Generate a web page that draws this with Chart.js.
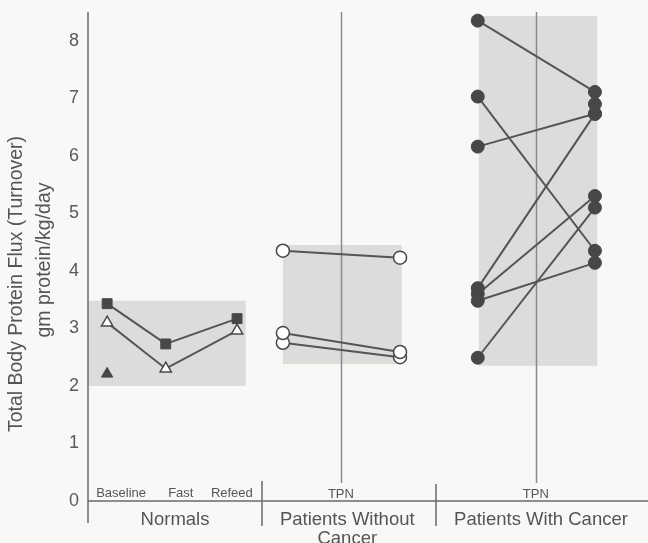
<!DOCTYPE html>
<html>
<head>
<meta charset="utf-8">
<script src="https://cdn.jsdelivr.net/npm/chart.js@4/dist/chart.umd.min.js"></script>
<style>
  html, body { margin: 0; padding: 0; background: #f8f8f6; }
  #wrap { width: 648px; height: 543px; position: relative; }
</style>
</head>
<body>
<div id="wrap"><canvas id="fluxChart"></canvas></div>
<script>
// normals: baseline / fast / refeed
const normalStages = ['Baseline', 'Fast', 'Refeed'];
const normalX = [0.33, 1.34, 2.57];
const normalStageLabelX = [0.57, 1.60, 2.48];
const normalSquares = [3.43, 2.73, 3.17];
const normalOpenTriangles = [3.10, 2.30, 2.96];
const normalFilledTriangle = [2.21];

// patients without cancer, before / after TPN
const withoutX = [3.36, 5.38];
const withoutBefore = [4.35, 2.92, 2.75];
const withoutAfter = [4.23, 2.59, 2.50];

// patients with cancer, before / after TPN
const cancerX = [6.72, 8.74];
const cancerBefore = [8.35, 7.03, 6.16, 3.70, 3.60, 3.48, 2.49];
const cancerAfter = [7.11, 4.35, 6.73, 6.73, 5.30, 4.14, 5.10];
const cancerAfterExtra = [6.90];

// shaded ranges per group
const shadeLeft = [0, 3.36, 6.74];
const shadeRight = [2.72, 5.41, 8.78];
const shadeLow = [2.0, 2.38, 2.35];
const shadeHigh = [3.48, 4.45, 8.43];

// group labels and dividers
const groupLabels = [['Normals'], ['Patients Without', 'Cancer'], ['Patients With Cancer']];
const groupCenters = [1.50, 4.47, 7.81];
const groupDividers = [3, 6];
const tpnX = [4.36, 7.72];
const yTicks = [0, 1, 2, 3, 4, 5, 6, 7, 8];

const ink = '#555555';
const markInk = '#474747';
const font = '"Liberation Sans", Arial, sans-serif';

const datasets = [];
datasets.push({
    label: 'Normals square',
    data: normalX.map((x, i) => ({ x: x, y: normalSquares[i] })),
    showLine: true, borderColor: ink, borderWidth: 2,
    pointStyle: 'rect', pointRadius: 7, pointBackgroundColor: markInk, pointBorderColor: markInk, pointBorderWidth: 1
});
datasets.push({
    label: 'Normals triangle',
    data: normalX.map((x, i) => ({ x: x, y: normalOpenTriangles[i] })),
    showLine: true, borderColor: ink, borderWidth: 2,
    pointStyle: 'triangle', pointRadius: 6.5, pointBackgroundColor: '#ffffff', pointBorderColor: markInk, pointBorderWidth: 1.5
});
datasets.push({
    label: 'Normals filled triangle',
    data: normalFilledTriangle.map(v => ({ x: normalX[0], y: v })),
    showLine: false,
    pointStyle: 'triangle', pointRadius: 6.5, pointBackgroundColor: markInk, pointBorderColor: markInk, pointBorderWidth: 1
});
withoutBefore.forEach((v, i) => {
    datasets.push({
        label: 'Without cancer ' + (i + 1),
        data: [{ x: withoutX[0], y: v }, { x: withoutX[1], y: withoutAfter[i] }],
        showLine: true, borderColor: ink, borderWidth: 2,
        pointStyle: 'circle', pointRadius: 6.5, pointBackgroundColor: '#ffffff', pointBorderColor: markInk, pointBorderWidth: 1.5
    });
});
cancerBefore.forEach((v, i) => {
    datasets.push({
        label: 'With cancer ' + (i + 1),
        data: [{ x: cancerX[0], y: v }, { x: cancerX[1], y: cancerAfter[i] }],
        showLine: true, borderColor: ink, borderWidth: 2,
        pointStyle: 'circle', pointRadius: 6.5, pointBackgroundColor: markInk, pointBorderColor: markInk, pointBorderWidth: 1
    });
});
datasets.push({
    label: 'With cancer extra',
    data: cancerAfterExtra.map(v => ({ x: cancerX[1], y: v })),
    showLine: false,
    pointStyle: 'circle', pointRadius: 6.5, pointBackgroundColor: markInk, pointBorderColor: markInk, pointBorderWidth: 1
});

// boxes + TPN lines under the marks
const backdropPlugin = {
    id: 'backdrop',
    beforeDatasetsDraw(chart) {
        const { ctx, scales: { x, y }, chartArea } = chart;
        ctx.save();
        ctx.fillStyle = '#dcdcdb';
        shadeLeft.forEach((l, i) => {
            const x0 = x.getPixelForValue(l), x1 = x.getPixelForValue(shadeRight[i]);
            const y0 = y.getPixelForValue(shadeHigh[i]), y1 = y.getPixelForValue(shadeLow[i]);
            ctx.fillRect(x0, y0, x1 - x0, y1 - y0);
        });
        ctx.strokeStyle = '#8a8a8a';
        ctx.lineWidth = 1.5;
        tpnX.forEach(t => {
            const px = Math.round(x.getPixelForValue(t)) + 0.5;
            ctx.beginPath();
            ctx.moveTo(px, chartArea.top);
            ctx.lineTo(px, chartArea.bottom - 18);
            ctx.stroke();
        });
        ctx.restore();
    }
};

// axis lines, category labels, y title
const framePlugin = {
    id: 'frame',
    afterDraw(chart) {
        const { ctx, scales: { x, y }, chartArea } = chart;
        const base = y.getPixelForValue(0);
        ctx.save();
        ctx.strokeStyle = '#6a6a6a';
        ctx.lineWidth = 1.5;
        ctx.beginPath();
        ctx.moveTo(chartArea.left, chartArea.top);
        ctx.lineTo(chartArea.left, base + 22);
        ctx.moveTo(chartArea.left, base);
        ctx.lineTo(chartArea.right, base);
        ctx.stroke();
        groupDividers.forEach((d, i) => {
            const px = x.getPixelForValue(d);
            ctx.beginPath();
            ctx.moveTo(px, base - (i === 0 ? 20 : 17));
            ctx.lineTo(px, base + 25);
            ctx.stroke();
        });

        ctx.fillStyle = ink;
        ctx.textAlign = 'center';
        ctx.textBaseline = 'alphabetic';
        ctx.font = '13px ' + font;
        normalStages.forEach((s, i) => {
            ctx.fillText(s, x.getPixelForValue(normalStageLabelX[i]), base - 4);
        });
        tpnX.forEach(t => ctx.fillText('TPN', x.getPixelForValue(t), base - 3));

        ctx.font = '18.5px ' + font;
        groupLabels.forEach((lines, i) => {
            lines.forEach((ln, j) => {
                ctx.fillText(ln, x.getPixelForValue(groupCenters[i]), base + 24 + j * 19);
            });
        });

        ctx.font = '19.5px ' + font;
        ctx.save();
        ctx.translate(22, 284);
        ctx.rotate(-Math.PI / 2);
        ctx.fillText('Total Body Protein Flux (Turnover)', 0, 0);
        ctx.restore();
        ctx.save();
        ctx.translate(50, 260);
        ctx.rotate(-Math.PI / 2);
        ctx.fillText('gm protein/kg/day', 0, 0);
        ctx.restore();
        ctx.restore();
    }
};

new Chart(document.getElementById('fluxChart'), {
    type: 'scatter',
    data: { datasets: datasets },
    options: {
        responsive: true,
        maintainAspectRatio: false,
        animation: false,
        layout: { autoPadding: false, padding: { top: 12, bottom: 42, right: 0, left: 0 } },
        plugins: { legend: { display: false }, tooltip: { enabled: false } },
        scales: {
            x: { type: 'linear', min: 0, max: 9.655, display: false },
            y: {
                type: 'linear', min: 0, max: 8.5,
                afterFit(scale) {
                    scale.width = 88;
                    scale.paddingTop = 0;
                    scale.paddingBottom = 0;
                },
                afterBuildTicks(scale) { scale.ticks = yTicks.map(v => ({ value: v })); },
                grid: { display: false, drawTicks: false },
                border: { display: false },
                ticks: { color: '#5a5a5a', padding: 9, font: { size: 18, family: font } }
            }
        }
    },
    plugins: [backdropPlugin, framePlugin]
});
</script>
</body>
</html>
